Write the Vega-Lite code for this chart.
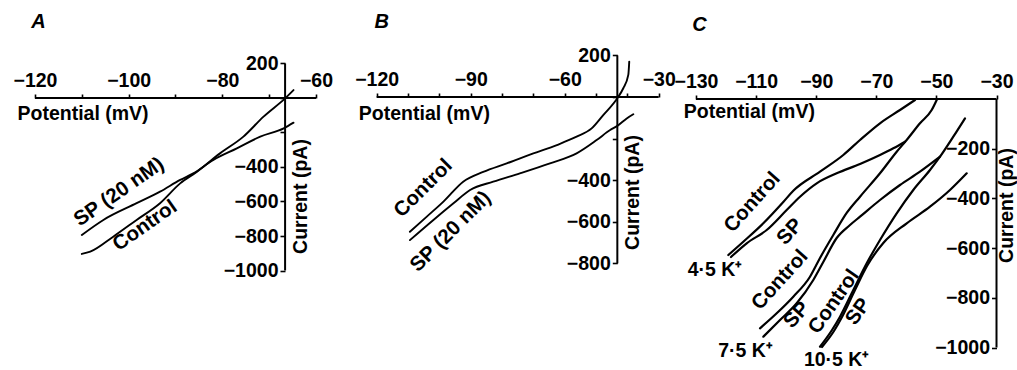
{
  "$schema": "https://vega.github.io/schema/vega-lite/v6.json",
  "padding": 0,
  "background": "white",
  "spacing": 0,
  "bounds": "flush",
  "resolve": {"scale": {"x": "independent", "y": "independent"}, "axis": {"x": "independent", "y": "independent"}},
  "config": {
    "view": {"stroke": null},
    "axis": {
      "domain": false, "grid": false,
      "labelFont": "Liberation Sans", "labelFontSize": 19.5, "labelFontWeight": "bold", "labelColor": "black",
      "titleFont": "Liberation Sans", "titleFontSize": 19.5, "titleFontWeight": "bold", "titleColor": "black",
      "tickColor": "black", "tickWidth": 1.6,
      "labelOverlap": false, "labelFlush": false, "labelBound": false
    },
    "text": {"font": "Liberation Sans", "fontSize": 20.5, "fontWeight": "bold", "color": "black", "align": "center", "baseline": "middle"}
  },
  "datasets": {
    "axes": [
      {"p": "A", "v": -120, "v2": -60, "i": 0, "i2": 0},
      {"p": "A", "v": -66.6, "v2": -66.6, "i": -1000, "i2": 200},
      {"p": "B", "v": -120, "v2": -30, "i": 0, "i2": 0},
      {"p": "B", "v": -43.2, "v2": -43.2, "i": -800, "i2": 200},
      {"p": "C", "v": -130, "v2": -30, "i": 0, "i2": 0},
      {"p": "C", "v": -30, "v2": -30, "i": -1000, "i2": 0}
    ],
    "curves": [
      {"p": "A", "s": "SP", "v": -110, "i": -794},
      {"p": "A", "s": "SP", "v": -105.4, "i": -707},
      {"p": "A", "s": "SP", "v": -98.3, "i": -610},
      {"p": "A", "s": "SP", "v": -93.3, "i": -543},
      {"p": "A", "s": "SP", "v": -89, "i": -475},
      {"p": "A", "s": "SP", "v": -86.2, "i": -437},
      {"p": "A", "s": "SP", "v": -81.9, "i": -359},
      {"p": "A", "s": "SP", "v": -76.9, "i": -292},
      {"p": "A", "s": "SP", "v": -71.9, "i": -224},
      {"p": "A", "s": "SP", "v": -66.9, "i": -176},
      {"p": "A", "s": "SP", "v": -64.8, "i": -143},
      {"p": "A", "s": "Control", "v": -110, "i": -904},
      {"p": "A", "s": "Control", "v": -108.2, "i": -891},
      {"p": "A", "s": "Control", "v": -103.3, "i": -804},
      {"p": "A", "s": "Control", "v": -98.3, "i": -707},
      {"p": "A", "s": "Control", "v": -93.3, "i": -610},
      {"p": "A", "s": "Control", "v": -89, "i": -495},
      {"p": "A", "s": "Control", "v": -85.4, "i": -427},
      {"p": "A", "s": "Control", "v": -80.5, "i": -321},
      {"p": "A", "s": "Control", "v": -75.5, "i": -224},
      {"p": "A", "s": "Control", "v": -71.2, "i": -108},
      {"p": "A", "s": "Control", "v": -66.6, "i": -2},
      {"p": "A", "s": "Control", "v": -64.8, "i": 46},
      {"p": "B", "s": "Control", "v": -109.4, "i": -648},
      {"p": "B", "s": "Control", "v": -104, "i": -575},
      {"p": "B", "s": "Control", "v": -98.7, "i": -503},
      {"p": "B", "s": "Control", "v": -92.4, "i": -407},
      {"p": "B", "s": "Control", "v": -86, "i": -360},
      {"p": "B", "s": "Control", "v": -78.5, "i": -319},
      {"p": "B", "s": "Control", "v": -70, "i": -271},
      {"p": "B", "s": "Control", "v": -62.5, "i": -231},
      {"p": "B", "s": "Control", "v": -56.2, "i": -191},
      {"p": "B", "s": "Control", "v": -51.4, "i": -151},
      {"p": "B", "s": "Control", "v": -47.7, "i": -87},
      {"p": "B", "s": "Control", "v": -43.2, "i": -6},
      {"p": "B", "s": "Control", "v": -41.3, "i": 42},
      {"p": "B", "s": "Control", "v": -39.7, "i": 106},
      {"p": "B", "s": "Control", "v": -39.4, "i": 170},
      {"p": "B", "s": "SP", "v": -109.4, "i": -688},
      {"p": "B", "s": "SP", "v": -101.9, "i": -591},
      {"p": "B", "s": "SP", "v": -95.5, "i": -511},
      {"p": "B", "s": "SP", "v": -90.2, "i": -447},
      {"p": "B", "s": "SP", "v": -82.8, "i": -407},
      {"p": "B", "s": "SP", "v": -74.3, "i": -367},
      {"p": "B", "s": "SP", "v": -64.7, "i": -319},
      {"p": "B", "s": "SP", "v": -56.2, "i": -271},
      {"p": "B", "s": "SP", "v": -49.8, "i": -207},
      {"p": "B", "s": "SP", "v": -45.5, "i": -159},
      {"p": "B", "s": "SP", "v": -43.2, "i": -139},
      {"p": "B", "s": "SP", "v": -40.2, "i": -103},
      {"p": "B", "s": "SP", "v": -38.1, "i": -83},
      {"p": "C", "s": "Control 4.5", "v": -119.25, "i": -627.7},
      {"p": "C", "s": "Control 4.5", "v": -114.26, "i": -574.2},
      {"p": "C", "s": "Control 4.5", "v": -107.6, "i": -500.2},
      {"p": "C", "s": "Control 4.5", "v": -100.95, "i": -414.5},
      {"p": "C", "s": "Control 4.5", "v": -97.62, "i": -369.3},
      {"p": "C", "s": "Control 4.5", "v": -88.73, "i": -292.5},
      {"p": "C", "s": "Control 4.5", "v": -80.98, "i": -225.3},
      {"p": "C", "s": "Control 4.5", "v": -75.42, "i": -165},
      {"p": "C", "s": "Control 4.5", "v": -68.77, "i": -97.8},
      {"p": "C", "s": "Control 4.5", "v": -62.11, "i": -44.3},
      {"p": "C", "s": "Control 4.5", "v": -57.12, "i": -4},
      {"p": "C", "s": "SP 4.5", "v": -118.35, "i": -635.8},
      {"p": "C", "s": "SP 4.5", "v": -113.13, "i": -580.7},
      {"p": "C", "s": "SP 4.5", "v": -106.47, "i": -527.1},
      {"p": "C", "s": "SP 4.5", "v": -99.82, "i": -446.7},
      {"p": "C", "s": "SP 4.5", "v": -95.39, "i": -393.1},
      {"p": "C", "s": "SP 4.5", "v": -89.83, "i": -339.2},
      {"p": "C", "s": "SP 4.5", "v": -83.18, "i": -299},
      {"p": "C", "s": "SP 4.5", "v": -75.42, "i": -261.6},
      {"p": "C", "s": "SP 4.5", "v": -68.77, "i": -225.3},
      {"p": "C", "s": "SP 4.5", "v": -64.34, "i": -198.4},
      {"p": "C", "s": "SP 4.5", "v": -60.45, "i": -171.8},
      {"p": "C", "s": "Control 7.5", "v": -108.7, "i": -922.7},
      {"p": "C", "s": "Control 7.5", "v": -103.14, "i": -862.3},
      {"p": "C", "s": "Control 7.5", "v": -97.62, "i": -795.5},
      {"p": "C", "s": "Control 7.5", "v": -92.06, "i": -715.1},
      {"p": "C", "s": "Control 7.5", "v": -88.73, "i": -639.8},
      {"p": "C", "s": "Control 7.5", "v": -84.31, "i": -547.3},
      {"p": "C", "s": "Control 7.5", "v": -79.85, "i": -458.7},
      {"p": "C", "s": "Control 7.5", "v": -75.42, "i": -393.1},
      {"p": "C", "s": "Control 7.5", "v": -68.77, "i": -299},
      {"p": "C", "s": "Control 7.5", "v": -63.21, "i": -212.1},
      {"p": "C", "s": "Control 7.5", "v": -59.89, "i": -165},
      {"p": "C", "s": "Control 7.5", "v": -55.46, "i": -97.8},
      {"p": "C", "s": "Control 7.5", "v": -51.57, "i": -44.3},
      {"p": "C", "s": "Control 7.5", "v": -49.9, "i": -4},
      {"p": "C", "s": "SP 7.5", "v": -107.6, "i": -956.5},
      {"p": "C", "s": "SP 7.5", "v": -102.04, "i": -889.3},
      {"p": "C", "s": "SP 7.5", "v": -96.49, "i": -822.1},
      {"p": "C", "s": "SP 7.5", "v": -90.96, "i": -728.3},
      {"p": "C", "s": "SP 7.5", "v": -87.64, "i": -655.9},
      {"p": "C", "s": "SP 7.5", "v": -83.18, "i": -559.3},
      {"p": "C", "s": "SP 7.5", "v": -78.75, "i": -507},
      {"p": "C", "s": "SP 7.5", "v": -75.42, "i": -473.6},
      {"p": "C", "s": "SP 7.5", "v": -68.77, "i": -406.4},
      {"p": "C", "s": "SP 7.5", "v": -62.11, "i": -346.1},
      {"p": "C", "s": "SP 7.5", "v": -55.46, "i": -292.5},
      {"p": "C", "s": "SP 7.5", "v": -48.8, "i": -232.2},
      {"p": "C", "s": "Control 10.5", "v": -88.73, "i": -996.8},
      {"p": "C", "s": "Control 10.5", "v": -84.74, "i": -929.5},
      {"p": "C", "s": "Control 10.5", "v": -82.08, "i": -876},
      {"p": "C", "s": "Control 10.5", "v": -77.65, "i": -768.6},
      {"p": "C", "s": "Control 10.5", "v": -73.19, "i": -661.1},
      {"p": "C", "s": "Control 10.5", "v": -68.77, "i": -567.4},
      {"p": "C", "s": "Control 10.5", "v": -63.21, "i": -459.9},
      {"p": "C", "s": "Control 10.5", "v": -57.69, "i": -366.2},
      {"p": "C", "s": "Control 10.5", "v": -52.13, "i": -285.7},
      {"p": "C", "s": "Control 10.5", "v": -48.8, "i": -232.2},
      {"p": "C", "s": "Control 10.5", "v": -44.38, "i": -151.7},
      {"p": "C", "s": "Control 10.5", "v": -40.48, "i": -77.7},
      {"p": "C", "s": "SP 10.5", "v": -88.07, "i": -997.9},
      {"p": "C", "s": "SP 10.5", "v": -84.08, "i": -933.6},
      {"p": "C", "s": "SP 10.5", "v": -81.41, "i": -877.2},
      {"p": "C", "s": "SP 10.5", "v": -77.09, "i": -768.6},
      {"p": "C", "s": "SP 10.5", "v": -73.09, "i": -672},
      {"p": "C", "s": "SP 10.5", "v": -67.67, "i": -579.5},
      {"p": "C", "s": "SP 10.5", "v": -59.88, "i": -500.2},
      {"p": "C", "s": "SP 10.5", "v": -52.13, "i": -433.4},
      {"p": "C", "s": "SP 10.5", "v": -45.48, "i": -366.2},
      {"p": "C", "s": "SP 10.5", "v": -39.92, "i": -299}
    ],
    "labels": [
      {"p": "A", "c": "", "t": "SP (20 nM)", "v": -102.06, "i": -545},
      {"p": "A", "c": "", "t": "Control", "v": -96.51, "i": -740},
      {"p": "B", "c": "", "t": "Control", "v": -105.13, "i": -438.9},
      {"p": "B", "c": "", "t": "SP (20 nM)", "v": -96.38, "i": -647.6},
      {"p": "C", "c": "4.5", "t": "Control", "v": -111.26, "i": -415.7},
      {"p": "C", "c": "4.5", "t": "SP", "v": -98.72, "i": -534},
      {"p": "C", "c": "4.5", "t": "4·5 K⁺", "v": -123.67, "i": -688},
      {"p": "C", "c": "7.5", "t": "Control", "v": -102.04, "i": -728.3},
      {"p": "C", "c": "7.5", "t": "SP", "v": -96.49, "i": -869.2},
      {"p": "C", "c": "7.5", "t": "7·5 K⁺", "v": -113.52, "i": -1014},
      {"p": "C", "c": "10.5", "t": "Control", "v": -84.08, "i": -815.7},
      {"p": "C", "c": "10.5", "t": "SP", "v": -75.99, "i": -855.9},
      {"p": "C", "c": "10.5", "t": "10·5 K⁺", "v": -83.18, "i": -1050}
    ],
    "letters": [
      {"p": "A", "t": "A", "v": -119.25, "i": 442.3},
      {"p": "B", "t": "B", "v": -118.4, "i": 362},
      {"p": "C", "t": "C", "v": -128.83, "i": 297.8}
    ]
  },
  "hconcat": [
    {
      "width": 340, "height": 370,
      "encoding": {
        "x": {"field": "v", "type": "quantitative",
          "scale": {"domain": [-127.473, -54.875], "nice": false, "zero": false},
          "axis": {"orient": "top", "offset": -98, "values": [-120, -110, -100, -90, -80, -70, -60], "format": "d",
            "labelExpr": "datum.value % 20 === 0 ? datum.label : ''", "tickSize": 4, "labelPadding": 4,
            "title": "Potential (mV)", "titleX": 17, "titleY": 15, "titleAlign": "left", "titleBaseline": "middle", "titleAngle": 0}},
        "y": {"field": "i", "type": "quantitative",
          "scale": {"domain": [-1576.8, 568.1], "nice": false, "zero": false},
          "axis": {"orient": "left", "offset": -285, "values": [200, 0, -200, -400, -600, -800, -1000], "format": "d",
            "labelExpr": "datum.value === 0 || datum.value === -200 ? '' : datum.label", "tickSize": 5, "labelPadding": 2,
            "title": "Current (pA)", "titleX": 15, "titleY": 196, "titleAngle": -90, "titleAlign": "center", "titleBaseline": "middle"}}
      },
      "layer": [
        {"data": {"name": "axes"}, "transform": [{"filter": "datum.p === 'A'"}],
         "mark": {"type": "rule", "color": "black", "strokeWidth": 2},
         "encoding": {"x2": {"field": "v2"}, "y2": {"field": "i2"}}},
        {"data": {"name": "curves"}, "transform": [{"filter": "datum.p === 'A'"}],
         "mark": {"type": "line", "color": "black", "strokeWidth": 1.9, "interpolate": "monotone", "strokeJoin": "round", "strokeCap": "round"},
         "encoding": {"detail": {"field": "s", "type": "nominal"}}},
        {"data": {"name": "labels"}, "transform": [{"filter": "datum.p === 'A'"}],
         "mark": {"type": "text", "angle": -35},
         "encoding": {"text": {"field": "t"}}},
        {"data": {"name": "letters"}, "transform": [{"filter": "datum.p === 'A'"}],
         "mark": {"type": "text", "fontStyle": "italic", "fontSize": 20},
         "encoding": {"text": {"field": "t"}}}
      ]
    },
    {
      "width": 340, "height": 370,
      "encoding": {
        "x": {"field": "v", "type": "quantitative",
          "scale": {"domain": [-131.71, -23.2], "nice": false, "zero": false},
          "axis": {"orient": "top", "offset": -97, "values": [-120, -110, -100, -90, -80, -70, -60, -50, -40, -30], "format": "d",
            "labelExpr": "datum.value % 30 === 0 ? datum.label : ''", "tickSize": 4, "labelPadding": 4,
            "title": "Potential (mV)", "titleX": 18.3, "titleY": 16, "titleAlign": "left", "titleBaseline": "middle", "titleAngle": 0}},
        "y": {"field": "i", "type": "quantitative",
          "scale": {"domain": [-1312.5, 466.3], "nice": false, "zero": false},
          "axis": {"orient": "left", "offset": -277.3, "values": [200, 0, -200, -400, -600, -800], "format": "d",
            "labelExpr": "datum.value === 0 || datum.value === -200 ? '' : datum.label", "tickSize": 5, "labelPadding": 2,
            "title": "Current (pA)", "titleX": 15, "titleY": 192, "titleAngle": -90, "titleAlign": "center", "titleBaseline": "middle"}}
      },
      "layer": [
        {"data": {"name": "axes"}, "transform": [{"filter": "datum.p === 'B'"}],
         "mark": {"type": "rule", "color": "black", "strokeWidth": 2},
         "encoding": {"x2": {"field": "v2"}, "y2": {"field": "i2"}}},
        {"data": {"name": "curves"}, "transform": [{"filter": "datum.p === 'B'"}],
         "mark": {"type": "line", "color": "black", "strokeWidth": 1.9, "interpolate": "monotone", "strokeJoin": "round", "strokeCap": "round"},
         "encoding": {"detail": {"field": "s", "type": "nominal"}}},
        {"data": {"name": "labels"}, "transform": [{"filter": "datum.p === 'B'"}],
         "mark": {"type": "text", "angle": -45},
         "encoding": {"text": {"field": "t"}}},
        {"data": {"name": "letters"}, "transform": [{"filter": "datum.p === 'B'"}],
         "mark": {"type": "text", "fontStyle": "italic", "fontSize": 20},
         "encoding": {"text": {"field": "t"}}}
      ]
    },
    {
      "width": 337, "height": 370,
      "encoding": {
        "x": {"field": "v", "type": "quantitative",
          "scale": {"domain": [-135.32, -23.18], "nice": false, "zero": false},
          "axis": {"orient": "top", "offset": -99, "values": [-130, -110, -90, -70, -50, -30], "format": "d",
            "tickSize": 4, "labelPadding": 4,
            "title": "Potential (mV)", "titleX": 3.3, "titleY": 12, "titleAlign": "left", "titleBaseline": "middle", "titleAngle": 0}},
        "y": {"field": "i", "type": "quantitative",
          "scale": {"domain": [-1090.5, 398.4], "nice": false, "zero": false},
          "axis": {"orient": "left", "offset": -316.5, "values": [-200, -400, -600, -800, -1000], "format": "d",
            "tickSize": 5, "labelPadding": 2,
            "title": "Current (pA)", "titleX": 10, "titleY": 205, "titleAngle": -90, "titleAlign": "center", "titleBaseline": "middle"}}
      },
      "layer": [
        {"data": {"name": "axes"}, "transform": [{"filter": "datum.p === 'C'"}],
         "mark": {"type": "rule", "color": "black", "strokeWidth": 2},
         "encoding": {"x2": {"field": "v2"}, "y2": {"field": "i2"}}},
        {"data": {"name": "curves"}, "transform": [{"filter": "datum.p === 'C'"}],
         "mark": {"type": "line", "color": "black", "strokeWidth": 2.2, "interpolate": "monotone", "strokeJoin": "round", "strokeCap": "round"},
         "encoding": {"detail": {"field": "s", "type": "nominal"}}},
        {"data": {"name": "labels"}, "transform": [{"filter": "datum.p === 'C' && datum.c !== '10.5' && indexof(datum.t, 'K') < 0"}],
         "mark": {"type": "text", "angle": -48},
         "encoding": {"text": {"field": "t"}}},
        {"data": {"name": "labels"}, "transform": [{"filter": "datum.p === 'C' && datum.c === '10.5' && indexof(datum.t, 'K') < 0"}],
         "mark": {"type": "text", "angle": -55},
         "encoding": {"text": {"field": "t"}}},
        {"data": {"name": "labels"}, "transform": [{"filter": "datum.p === 'C' && indexof(datum.t, 'K') >= 0"}],
         "mark": {"type": "text", "fontSize": 19.5},
         "encoding": {"text": {"field": "t"}}},
        {"data": {"name": "letters"}, "transform": [{"filter": "datum.p === 'C'"}],
         "mark": {"type": "text", "fontStyle": "italic", "fontSize": 20},
         "encoding": {"text": {"field": "t"}}}
      ]
    }
  ]
}
